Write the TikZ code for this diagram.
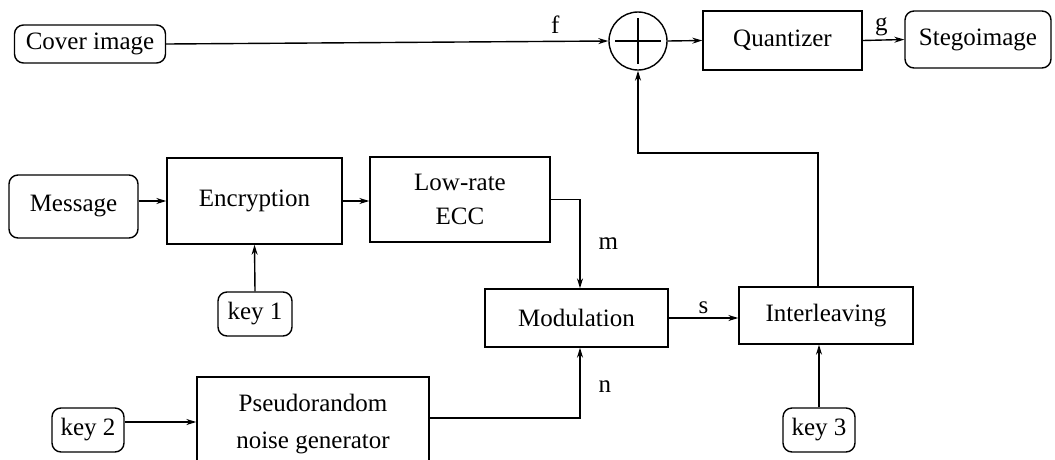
\documentclass[tikz,border=0pt]{standalone}
\usepackage{fontspec}
\setmainfont{Liberation Serif}
\usetikzlibrary{arrows.meta,calc}
\begin{document}
\begin{tikzpicture}[x=1pt,y=-1pt,
  every node/.style={font=\fontsize{25}{30}\selectfont},
  blk/.style={draw,line width=1.4pt,inner sep=0pt,align=center},
  rbox/.style={blk,rounded corners=9pt},
  conn/.style={line width=1.4pt,-{Stealth[length=10pt,width=6pt]}},
  plainline/.style={line width=1.4pt},
  lbl/.style={inner sep=0pt}]
\useasboundingbox (0,0) rectangle (1055,459);

\node[rbox,minimum width=151pt,minimum height=38pt] (cover) at (90,44) {Cover image};
\node[draw,line width=1.4pt,circle,minimum size=58pt,inner sep=0pt] (sum) at (638,41) {};
\draw[line width=1.4pt] ($(sum)+(-23,0)$) -- ($(sum)+(23,0)$);
\draw[line width=1.4pt] ($(sum)+(0,-23)$) -- ($(sum)+(0,23)$);
\node[blk,minimum width=159pt,minimum height=59pt] (quant) at (782.5,40.5) {Quantizer};
\node[rbox,minimum width=146pt,minimum height=57pt] (stego) at (978,39.5) {Stegoimage};

\node[rbox,minimum width=129pt,minimum height=63pt] (msg) at (73.5,206.5) {Message};
\node[blk,minimum width=175pt,minimum height=86pt] (enc) at (254.5,201) {Encryption};
\node[blk,minimum width=180pt,minimum height=85pt,font=\fontsize{25}{34}\selectfont] (ecc) at (460,199.5) {Low-rate\\ECC};
\node[rbox,minimum width=74pt,minimum height=44pt] (key1) at (255,314) {key 1};

\node[blk,minimum width=183pt,minimum height=58pt] (mod) at (576.5,318) {Modulation};
\node[blk,minimum width=174pt,minimum height=57pt] (int) at (826,315.5) {Interleaving};
\node[rbox,minimum width=72pt,minimum height=44pt] (key3) at (819,430) {key 3};

\node[rbox,minimum width=72pt,minimum height=44pt] (key2) at (88,430) {key 2};
\node[blk,minimum width=232pt,minimum height=94pt,font=\fontsize{25}{37}\selectfont] (pseudo) at (313,424) {Pseudorandom\\noise generator};

% connectors
\draw[conn] (cover.east) -- (sum.west) node[lbl,pos=0.88,above=7pt] (lf) {f};
\draw[conn] (sum.east) -- (quant.west);
\draw[conn] (quant.east) -- (stego.west) node[lbl,pos=0.45,above=3pt] (lg) {g};
\draw[conn] (enc.west -| msg.east) -- (enc.west);
\draw[conn] (enc.east) -- (enc.east -| ecc.west);
\draw[conn] (key1.north) -- (enc.south);
\draw[conn] (ecc.east) -| ([xshift=3.5pt]mod.north) node[lbl,pos=0.75,right=18pt] (lm) {m};
\draw[conn] ([yshift=6pt]pseudo.east) -| ([xshift=3.5pt]mod.south) node[lbl,pos=0.72,right=18pt] (ln) {n};
\draw[conn] (mod.east) -- (mod.east -| int.west) node[lbl,midway,above=4pt] (ls) {s};
\draw[conn] (key3.north) -- (key3.north |- int.south);
\coordinate (fb) at (818,153);
\draw[conn] (int.north -| fb) -- (fb) -| (sum.south);
\draw[conn] ([yshift=8pt]key2.east) -- ([yshift=8pt]key2.east -| pseudo.west);
\end{tikzpicture}
\end{document}
